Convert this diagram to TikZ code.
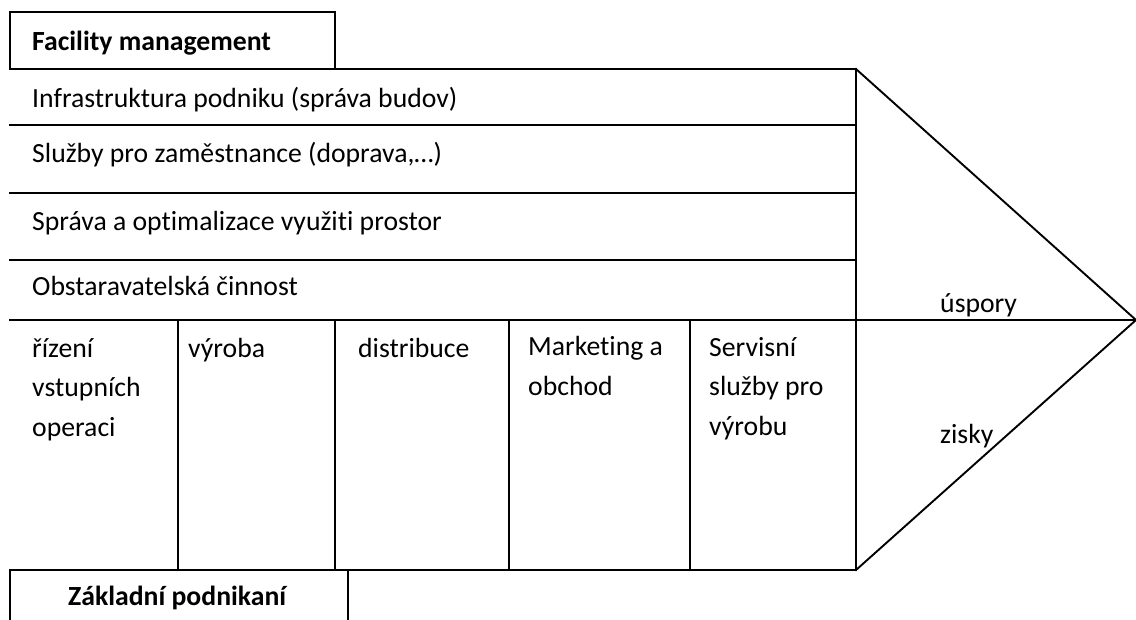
\documentclass[tikz,border=0pt]{standalone}
\usepackage{fontspec}
\setmainfont{Carlito}[Ligatures=NoCommon,RawFeature={-liga;-clig;-dlig}]
\begin{document}
\begin{tikzpicture}[x=1pt,y=-1pt,
  frame/.style={line width=1.9pt,line join=miter,line cap=rect},
  lbl/.style={anchor=base west,inner sep=0pt,font=\fontsize{27.7}{39.5}\selectfont},
  blbl/.style={lbl,font=\fontsize{27.7}{39.5}\selectfont\bfseries},
  cell/.style={lbl,align=left}]
\useasboundingbox (0,0) rectangle (1136,619);

% key corners of the value chain
\coordinate (tl) at (10,69);
\coordinate (tr) at (856,69);
\coordinate (br) at (856,570);
\coordinate (bl) at (10,570);
\coordinate (tip) at (1136,320);

% support activities tab
\draw[frame] (tl) -- (10,12) -- (335,12) -- (335,69);
% main block and margin triangle
\draw[frame] (tl) -- (tr) -- (br) -- (bl) -- (10,619);
\draw[frame] (tr) -- (tip) -- (br);
% support activity rows
\foreach \y in {125,193,260} \draw[frame] (10,\y) -- (856,\y);
\draw[frame] (10,320) -- (tip);
% primary activity columns
\foreach \x in {178,335,509,690} \draw[frame] (\x,320) -- (\x,570);
% primary activities tab
\draw[frame] (348,570) -- (348,619);

% labels
\node[blbl] (fm) at (32,50) {Facility management};
\node[lbl] (r1) at (32,107) {Infrastruktura podniku (správa budov)};
\node[lbl] (r2) at (32,162) {Služby pro zaměstnance (doprava,…)};
\node[lbl] (r3) at (32,230) {Správa a optimalizace využiti prostor};
\node[lbl] (r4) at (32,295) {Obstaravatelská činnost};

% cells are placed by the baseline of their last line
\node[cell] (c1) at (32,436) {řízení\\vstupních\\operaci};
\node[cell] (c2) at (188,357) {výroba};
\node[cell] (c3) at (358,357) {distribuce};
\node[cell] (c4) at (528,395) {Marketing a\\obchod};
\node[cell] (c5) at (709,435) {Servisní\\služby pro\\výrobu};

\node[lbl] (sav) at (940,312) {úspory};
\node[lbl] (prf) at (940,443) {zisky};
\node[blbl] (zp) at (68,605) {Základní podnikaní};
\end{tikzpicture}
\end{document}
